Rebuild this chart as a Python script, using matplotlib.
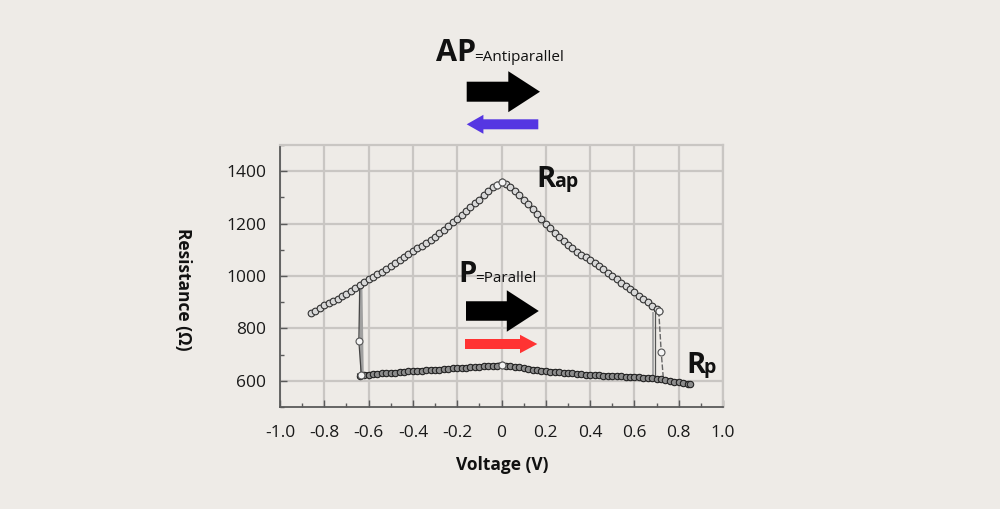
import matplotlib
matplotlib.use("Agg")
import matplotlib.pyplot as plt
from matplotlib.patches import FancyArrow
from matplotlib.ticker import MultipleLocator, FixedLocator

# ---------------- data ----------------
ap_voltage = [-0.86, -0.84, -0.82, -0.80, -0.78, -0.76, -0.74, -0.72, -0.70, -0.68,
              -0.66, -0.64, -0.62, -0.60, -0.58, -0.56, -0.54, -0.52, -0.50, -0.48,
              -0.46, -0.44, -0.42, -0.40, -0.38, -0.36, -0.34, -0.32, -0.30, -0.28,
              -0.26, -0.24, -0.22, -0.20, -0.18, -0.16, -0.14, -0.12, -0.10, -0.08,
              -0.06, -0.04, -0.02, 0.00, 0.02, 0.04, 0.06, 0.08, 0.10, 0.12,
              0.14, 0.16, 0.18, 0.20, 0.22, 0.24, 0.26, 0.28, 0.30, 0.32,
              0.34, 0.36, 0.38, 0.40, 0.42, 0.44, 0.46, 0.48, 0.50, 0.52,
              0.54, 0.56, 0.58, 0.60, 0.62, 0.64, 0.66, 0.68, 0.70, 0.71]
ap_resistance = [858, 867, 877, 888, 896, 905, 913, 922, 931, 942,
                 953, 964, 976, 988, 997, 1007, 1017, 1027, 1037, 1048,
                 1060, 1071, 1083, 1094, 1105, 1116, 1127, 1138, 1150, 1163,
                 1177, 1191, 1205, 1219, 1234, 1249, 1263, 1277, 1292, 1308,
                 1325, 1338, 1346, 1360, 1352, 1340, 1325, 1308, 1291, 1275,
                 1256, 1237, 1218, 1200, 1182, 1164, 1147, 1132, 1118, 1105,
                 1093, 1082, 1072, 1062, 1049, 1037, 1025, 1012, 1000, 988,
                 975, 963, 950, 938, 925, 912, 899, 886, 873, 866]

p_voltage = [-0.64, -0.62, -0.60, -0.58, -0.56, -0.54, -0.52, -0.50, -0.48, -0.46,
             -0.44, -0.42, -0.40, -0.38, -0.36, -0.34, -0.32, -0.30, -0.28, -0.26,
             -0.24, -0.22, -0.20, -0.18, -0.16, -0.14, -0.12, -0.10, -0.08, -0.06,
             -0.04, -0.02, 0.00, 0.02, 0.04, 0.06, 0.08, 0.10, 0.12, 0.14,
             0.16, 0.18, 0.20, 0.22, 0.24, 0.26, 0.28, 0.30, 0.32, 0.34,
             0.36, 0.38, 0.40, 0.42, 0.44, 0.46, 0.48, 0.50, 0.52, 0.54,
             0.56, 0.58, 0.60, 0.62, 0.64, 0.66, 0.68, 0.70, 0.72, 0.74,
             0.76, 0.78, 0.80, 0.82, 0.84, 0.85]
p_resistance = [620, 623, 624, 625, 627, 628, 629, 630, 631, 633,
                634, 636, 637, 638, 639, 640, 641, 642, 643, 644,
                645, 647, 648, 649, 650, 651, 652, 653, 655, 656,
                657, 658, 662, 657, 655, 653, 651, 648, 646, 643,
                641, 639, 637, 635, 634, 632, 631, 629, 628, 626,
                625, 623, 622, 621, 621, 620, 619, 619, 618, 617,
                616, 616, 615, 614, 612, 611, 610, 608, 606, 603,
                600, 597, 595, 592, 589, 587]

# switching traces
sw_left_voltage = [-0.640, -0.644, -0.633]
sw_left_resistance = [962, 752, 622]
sw_left2_voltage = [-0.636, -0.630]
sw_left2_resistance = [960, 625]
sw_right_voltage = [0.710, 0.721, 0.731]
sw_right_resistance = [866, 710, 605]
sw_right2_voltage = [0.683, 0.683]
sw_right2_resistance = [860, 606]
sw_right3_voltage = [0.695, 0.695]
sw_right3_resistance = [860, 606]

key_voltage = [-0.02, 0.00, 0.00, -0.633, -0.644, 0.710, 0.721]
key_resistance = [1346, 1360, 662, 622, 752, 866, 710]

x_ticks = [-1.0, -0.8, -0.6, -0.4, -0.2, 0.0, 0.2, 0.4, 0.6, 0.8, 1.0]
x_tick_labels = ["-1.0", "-0.8", "-0.6", "-0.4", "-0.2", "0", "0.2", "0.4", "0.6", "0.8", "1.0"]
y_ticks = [600, 800, 1000, 1200, 1400]
y_tick_labels = ["600", "800", "1000", "1200", "1400"]

# ---------------- style ----------------
BG = "#EEEBE7"
GRID = "#C9C6C3"
SPINE = "#5a5a5a"
INK = "#111111"
plt.rcParams["font.family"] = ["Open Sans", "Noto Sans", "DejaVu Sans"]

fig = plt.figure(figsize=(10, 5.09), dpi=100, facecolor=BG)
ax = fig.add_axes([0.280, 0.2004, 0.443, 0.5147])
ax.set_facecolor(BG)
ax.set_xlim(-1.0, 1.0)
ax.set_ylim(500, 1500)

ax.xaxis.set_major_locator(FixedLocator(x_ticks))
ax.set_xticklabels(x_tick_labels)
ax.xaxis.set_minor_locator(MultipleLocator(0.1))
ax.yaxis.set_major_locator(FixedLocator(y_ticks))
ax.set_yticklabels(y_tick_labels)
ax.yaxis.set_minor_locator(MultipleLocator(100))

ax.grid(True, which="major", color=GRID, lw=1.6, zorder=0)
ax.set_axisbelow(True)
ax.tick_params(axis="both", which="major", direction="in", length=5, width=1, color=SPINE,
               labelsize=12.5, labelcolor="#1a1a1a")
ax.tick_params(axis="both", which="minor", direction="in", length=3, width=1, color=SPINE)
ax.tick_params(axis="x", which="major", pad=13)
ax.tick_params(axis="y", which="major", pad=10)
for s in ("left", "bottom"):
    ax.spines[s].set_color(SPINE)
    ax.spines[s].set_linewidth(1.3)
for s in ("top", "right"):
    ax.spines[s].set_color(GRID)
    ax.spines[s].set_linewidth(1.6)

# switching traces
ax.plot(sw_left2_voltage, sw_left2_resistance, color="#a0a0a0", lw=2.6, zorder=2)
ax.plot(sw_left_voltage, sw_left_resistance, color="#444444", lw=0.9, zorder=3)
ax.plot(sw_right2_voltage, sw_right2_resistance, color="#a8a8a8", lw=1.4, zorder=2)
ax.plot(sw_right3_voltage, sw_right3_resistance, color="#555555", lw=0.9, zorder=2)
ax.plot(sw_right_voltage, sw_right_resistance, color="#666666", lw=1.0, ls=(0, (4, 1.5)), zorder=3)

# P branch (thick, dark)
ax.plot(p_voltage, p_resistance, color="#222222", lw=3.6, zorder=3)
ax.plot(p_voltage, p_resistance, ls="none", marker="o", ms=4.6, mfc="#8c8c8c",
        mec="#222222", mew=0.8, zorder=4)

# AP branch
ax.plot(ap_voltage, ap_resistance, color="#444444", lw=2.0, zorder=3)
ax.plot(ap_voltage, ap_resistance, ls="none", marker="o", ms=4.8, mfc="#d8d8d8",
        mec="#333333", mew=0.8, zorder=4)

ax.plot(key_voltage, key_resistance, ls="none", marker="o", ms=5, mfc="#f4f4f4",
        mec="#555555", mew=0.8, zorder=5)

# ---------------- overlay in pixel coordinates ----------------
ov = fig.add_axes([0, 0, 1, 1], zorder=10)
ov.set_xlim(0, 1000)
ov.set_ylim(509, 0)
ov.axis("off")
ov.patch.set_alpha(0)

# axis labels
ov.text(502, 470.5, "Voltage (V)", ha="center", va="baseline", fontsize=12.5,
        fontweight="bold", color=INK)
ov.text(183, 289, "Resistance (Ω)", ha="center", va="center", rotation=-90,
        fontsize=12.5, fontweight="bold", color=INK)

fig.canvas.draw()
renderer = fig.canvas.get_renderer()


def pair(x, y, big, small, big_size, small_size, small_bold, gap):
    t = ov.text(x, y, big, ha="left", va="baseline", fontsize=big_size,
                fontweight="bold", color=INK)
    bb = t.get_window_extent(renderer=renderer)
    x1 = ov.transData.inverted().transform((bb.x1, bb.y0))[0]
    ov.text(x1 + gap, y, small, ha="left", va="baseline", fontsize=small_size,
            fontweight="bold" if small_bold else "normal", color=INK)


# AP annotation
pair(436, 60.7, "AP", "=Antiparallel", 22, 11, False, -1.5)
ov.add_patch(FancyArrow(466.7, 91.7, 73.3, 0, width=20, head_width=41, head_length=31.7,
                        length_includes_head=True, color="black", lw=0))
ov.add_patch(FancyArrow(538.3, 124.3, -71.6, 0, width=10, head_width=19, head_length=16.7,
                        length_includes_head=True, color="#5536E2", lw=0))

# P annotation
pair(458, 282.3, "P", "=Parallel", 21, 11, False, -1.0)
ov.add_patch(FancyArrow(466, 311, 72.8, 0, width=19.5, head_width=41.5, head_length=32,
                        length_includes_head=True, color="black", lw=0))
ov.add_patch(FancyArrow(465, 344, 72.3, 0, width=10, head_width=18.5, head_length=17.3,
                        length_includes_head=True, color="#FF3333", lw=0))

# R labels
pair(536, 186.7, "R", "ap", 21, 14, True, -1.5)
pair(686, 373.3, "R", "p", 21, 14, True, -1.5)

fig.savefig("out.png", dpi=100, facecolor=BG)
